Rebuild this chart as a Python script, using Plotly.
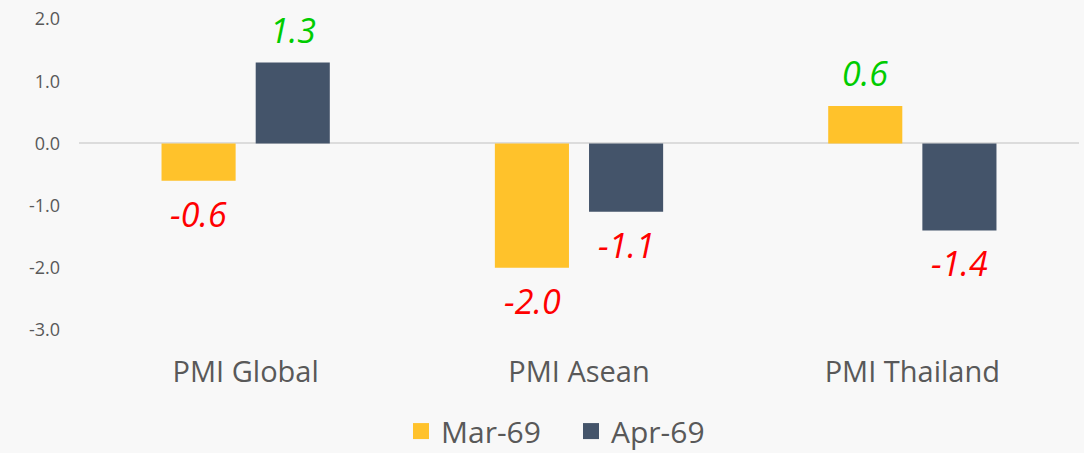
import plotly.graph_objects as go

categories = ["PMI Global", "PMI Asean", "PMI Thailand"]
mar_values = [-0.6, -2.0, 0.6]
apr_values = [1.3, -1.1, -1.4]
series_names = ["Mar-69", "Apr-69"]
y_tick_vals = [2, 1, 0, -1, -2, -3]
y_tick_text = ["2.0", "1.0", "0.0", "-1.0", "-2.0", "-3.0"]

colors = ["#FFC22B", "#44546A"]
font_family = "Open Sans"

fig = go.Figure()
for name, vals, col in zip(series_names, [mar_values, apr_values], colors):
    fig.add_trace(go.Bar(x=categories, y=vals, name=name, showlegend=False,
                         marker=dict(color=col, line=dict(width=0))))
# legend entries with larger square symbols
for name, col in zip(series_names, colors):
    fig.add_trace(go.Scatter(x=[None], y=[None], mode="markers", name=name,
                             marker=dict(symbol="square", size=20, color=col)))

# data labels
for vals, xs in [(mar_values, -47), (apr_values, 47)]:
    for c, v in zip(categories, vals):
        fig.add_annotation(
            x=c, y=v, text=f"{v:.1f}", showarrow=False,
            xshift=xs, yshift=33 if v >= 0 else -33,
            font=dict(family=font_family, size=34, style="italic",
                      color="#00CC00" if v >= 0 else "#FF0000"),
        )

fig.update_layout(
    width=1084, height=453,
    margin=dict(l=79, r=5, t=19, b=123, autoexpand=False),
    paper_bgcolor="#f8f8f8", plot_bgcolor="#f8f8f8",
    barmode="group", bargap=0.435, bargroupgap=0.213,
    font=dict(family=font_family, color="#595959"),
    legend=dict(orientation="h", x=0.492, xanchor="center", y=-0.325, yanchor="middle",
                font=dict(size=30, color="#595959"), itemwidth=30, entrywidth=125,
                bgcolor="rgba(0,0,0,0)"),
    showlegend=True,
)
fig.update_yaxes(range=[-3, 2], tickvals=y_tick_vals, ticktext=y_tick_text,
                 showgrid=False, zeroline=True, zerolinecolor="#dcdcdc", zerolinewidth=2,
                 showline=False, tickfont=dict(size=18, color="#595959"), ticklabelstandoff=18)
fig.update_xaxes(showgrid=False, showline=False, ticks="", tickfont=dict(size=29, color="#595959"),
                 ticklabelstandoff=22)

fig.write_html("out.html")
